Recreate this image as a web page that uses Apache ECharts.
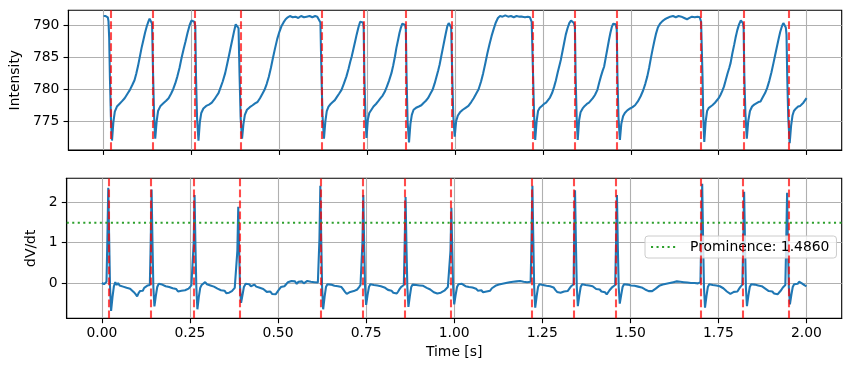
<!DOCTYPE html>
<html>
<head>
<meta charset="utf-8">
<script src="https://cdn.jsdelivr.net/npm/echarts@6/dist/echarts.min.js"></script>
<style>html,body{margin:0;padding:0;background:#fff}#c{width:850px;height:371px}</style>
</head>
<body>
<div id="c"></div>
<script>
// ---- data ----
const spikeTimes = [0.018,0.141,0.263,0.387,0.620,0.742,0.862,0.992,1.222,1.343,1.462,1.704,1.823,1.945];
const prominence = 1.4860;
const xTicks = [0,0.25,0.5,0.75,1,1.25,1.5,1.75,2];
const yTicksTop = [775,780,785,790];
const yTicksBottom = [0,1,2];
const xRange = [-0.1, 2.1];

const intensity = [
[0.000,791.4],[0.003,791.3],[0.006,791.4],[0.009,791.3],[0.012,791.2],[0.014,790.6],[0.016,788.0],[0.018,782.0],[0.021,775.5],[0.024,772.0],
[0.028,774.9],[0.032,776.5],[0.038,777.3],[0.045,777.7],[0.052,778.1],[0.060,778.6],[0.068,779.3],[0.075,779.9],[0.082,780.7],[0.088,781.4],
[0.093,782.4],[0.098,783.6],[0.103,785.0],[0.108,786.4],[0.113,787.6],[0.118,788.8],[0.123,789.8],[0.128,790.6],[0.131,791.0],[0.135,790.7],[0.138,790.2],
[0.141,782.0],[0.144,775.5],[0.147,772.3],[0.151,775.0],[0.155,776.6],[0.162,777.4],[0.170,777.8],[0.178,778.2],[0.185,778.6],[0.192,779.3],[0.198,780.0],
[0.204,780.9],[0.210,782.0],[0.216,783.3],[0.222,784.9],[0.228,786.3],[0.233,787.4],[0.239,788.8],[0.245,790.0],[0.250,790.7],[0.254,790.8],[0.258,790.5],[0.261,789.8],
[0.263,782.0],[0.266,775.5],[0.270,772.0],[0.274,774.9],[0.278,776.3],[0.284,777.0],[0.292,777.4],[0.300,777.6],[0.308,777.9],[0.315,778.4],[0.321,778.9],[0.327,779.4],
[0.333,780.3],[0.339,781.2],[0.346,782.5],[0.352,784.0],[0.357,785.3],[0.362,786.6],[0.367,787.9],[0.372,789.2],[0.376,790.1],[0.380,790.2],[0.384,789.5],
[0.387,782.0],[0.390,775.5],[0.394,772.3],[0.398,774.6],[0.402,776.0],[0.408,776.8],[0.416,777.2],[0.424,777.5],[0.431,777.8],[0.438,778.0],[0.445,778.6],[0.452,779.3],
[0.458,779.9],[0.464,780.8],[0.470,781.9],[0.476,783.3],[0.482,784.9],[0.488,786.4],[0.494,787.8],[0.500,788.9],[0.506,789.8],[0.512,790.4],[0.518,790.9],[0.524,791.2],
[0.530,791.4],[0.538,791.2],[0.546,791.3],[0.554,791.1],[0.562,791.4],[0.570,791.2],[0.578,791.3],[0.586,791.4],[0.594,791.2],[0.602,791.4],[0.608,791.3],[0.613,791.1],[0.617,790.4],
[0.620,782.0],[0.623,775.8],[0.627,772.3],[0.631,775.0],[0.635,776.6],[0.640,777.3],[0.646,777.7],[0.652,778.0],[0.658,778.3],[0.664,778.8],[0.670,779.3],[0.677,779.9],
[0.684,780.9],[0.691,782.0],[0.697,783.2],[0.702,784.3],[0.706,785.1],[0.711,786.3],[0.716,787.5],[0.720,788.5],[0.725,789.6],[0.730,790.5],[0.734,790.8],[0.738,790.4],[0.740,789.6],
[0.742,782.0],[0.745,776.0],[0.748,772.4],[0.752,775.3],[0.756,776.3],[0.762,776.8],[0.768,777.3],[0.775,777.7],[0.781,778.1],[0.788,778.6],[0.794,779.0],[0.800,779.6],
[0.806,780.4],[0.812,781.3],[0.819,782.5],[0.824,783.7],[0.829,785.1],[0.833,786.4],[0.838,787.7],[0.842,788.8],[0.846,789.6],[0.850,790.2],[0.854,790.4],[0.858,790.0],[0.860,789.3],
[0.862,782.0],[0.865,775.0],[0.869,771.7],[0.873,774.6],[0.877,776.0],[0.882,776.8],[0.889,777.1],[0.897,777.3],[0.904,777.5],[0.911,777.9],[0.917,778.2],[0.923,778.6],
[0.929,779.2],[0.936,779.9],[0.942,780.9],[0.947,781.9],[0.952,782.9],[0.956,783.8],[0.961,785.2],[0.966,786.6],[0.970,787.7],[0.974,788.8],[0.978,789.8],[0.982,790.3],[0.986,790.1],[0.989,789.6],
[0.992,782.0],[0.995,775.8],[0.999,772.6],[1.003,775.0],[1.008,775.9],[1.014,776.4],[1.022,776.8],[1.030,777.1],[1.038,777.4],[1.046,778.0],[1.053,778.6],[1.060,779.3],
[1.067,780.0],[1.074,781.2],[1.080,782.5],[1.086,784.0],[1.092,785.6],[1.098,787.0],[1.104,788.3],[1.110,789.4],[1.116,790.4],[1.122,791.1],[1.128,791.4],[1.135,791.3],
[1.143,791.5],[1.151,791.3],[1.159,791.4],[1.167,791.2],[1.175,791.4],[1.183,791.3],[1.191,791.3],[1.199,791.2],[1.207,791.3],[1.213,791.2],[1.218,790.5],
[1.222,782.0],[1.225,775.8],[1.228,772.1],[1.232,775.0],[1.236,776.6],[1.241,777.1],[1.247,777.4],[1.253,777.7],[1.259,777.9],[1.264,778.1],[1.270,778.7],[1.276,779.4],
[1.282,780.4],[1.287,781.4],[1.292,782.6],[1.297,783.7],[1.301,784.6],[1.306,786.0],[1.311,787.4],[1.315,788.5],[1.320,789.5],[1.325,790.3],[1.330,790.7],[1.334,790.8],[1.338,790.3],[1.341,789.7],
[1.343,782.0],[1.346,775.5],[1.349,772.1],[1.353,775.2],[1.357,776.4],[1.363,777.0],[1.369,777.4],[1.375,777.7],[1.381,777.9],[1.386,778.1],[1.392,778.6],[1.398,779.1],
[1.405,779.9],[1.410,781.0],[1.415,782.0],[1.420,782.9],[1.424,783.5],[1.429,785.0],[1.434,786.5],[1.438,787.7],[1.442,788.8],[1.446,789.7],[1.450,790.2],[1.454,790.4],[1.457,790.1],[1.460,789.3],
[1.462,782.0],[1.465,775.5],[1.469,772.1],[1.473,774.6],[1.478,775.8],[1.483,776.3],[1.490,776.7],[1.498,777.0],[1.505,777.2],[1.512,777.5],[1.520,778.1],[1.528,778.9],
[1.535,779.8],[1.541,780.8],[1.547,782.0],[1.552,783.3],[1.557,784.8],[1.562,786.2],[1.567,787.5],[1.572,788.7],[1.577,789.6],[1.583,790.2],[1.590,790.6],[1.597,790.9],
[1.604,791.1],[1.612,791.3],[1.620,791.4],[1.628,791.2],[1.636,791.4],[1.644,791.3],[1.652,791.1],[1.660,790.9],[1.667,791.1],[1.674,791.3],[1.682,791.2],[1.690,791.3],[1.696,791.2],[1.700,790.5],
[1.704,782.0],[1.706,776.0],[1.709,771.8],[1.713,775.0],[1.717,776.6],[1.722,777.1],[1.727,777.3],[1.732,777.5],[1.738,777.8],[1.744,778.2],[1.750,778.6],[1.755,779.1],
[1.760,779.7],[1.765,780.4],[1.770,781.4],[1.775,782.4],[1.780,783.3],[1.784,784.1],[1.789,785.6],[1.794,786.9],[1.798,788.0],[1.803,789.2],[1.808,790.1],[1.813,790.7],[1.816,790.8],[1.819,790.3],[1.821,789.5],
[1.823,782.0],[1.826,776.3],[1.830,772.3],[1.834,775.0],[1.839,776.6],[1.845,777.3],[1.851,777.6],[1.857,777.8],[1.863,778.0],[1.869,778.1],[1.875,778.7],[1.882,779.4],
[1.888,780.2],[1.894,781.3],[1.900,782.6],[1.906,784.1],[1.911,785.4],[1.916,786.7],[1.920,787.7],[1.925,788.9],[1.930,789.8],[1.934,790.3],[1.938,790.2],[1.941,789.6],[1.943,788.5],
[1.945,782.0],[1.948,775.5],[1.952,771.6],[1.956,774.3],[1.960,775.9],[1.964,776.6],[1.970,777.0],[1.976,777.3],[1.982,777.4],[1.987,777.6],[1.991,777.9],[1.995,778.2],[2.000,778.6]
];

const dvdt = [
[0.000,0.00],[0.003,0.02],[0.006,-0.03],[0.009,0.01],[0.011,-0.02],[0.013,0.03],
[0.0155,1.1],[0.018,2.35],[0.0205,1.1],[0.023,-0.1],[0.026,-0.69],[0.030,-0.35],[0.034,-0.08],
[0.038,0.02],[0.042,-0.05],[0.046,0.00],[0.050,-0.06],[0.055,-0.03],[0.060,-0.09],[0.065,-0.05],[0.070,-0.12],[0.075,-0.08],[0.080,-0.14],[0.085,-0.18],
[0.090,-0.22],[0.095,-0.27],[0.100,-0.33],[0.104,-0.25],[0.108,-0.20],[0.112,-0.16],[0.116,-0.19],[0.120,-0.12],[0.125,-0.10],[0.130,-0.06],[0.134,-0.08],[0.136,-0.05],
[0.1385,1.0],[0.141,2.31],[0.1435,1.0],[0.146,-0.1],[0.149,-0.58],[0.153,-0.32],[0.157,-0.10],
[0.161,-0.02],[0.166,0.00],[0.171,-0.04],[0.176,-0.02],[0.181,-0.08],[0.186,-0.06],[0.191,-0.10],[0.196,-0.08],[0.201,-0.13],[0.206,-0.17],[0.211,-0.15],
[0.216,-0.21],[0.221,-0.24],[0.226,-0.19],[0.231,-0.23],[0.236,-0.18],[0.241,-0.21],[0.246,-0.14],[0.250,-0.10],[0.254,-0.06],[0.258,-0.04],
[0.2605,1.0],[0.263,2.17],[0.2655,0.9],[0.268,-0.1],[0.271,-0.65],[0.275,-0.35],[0.279,-0.12],
[0.283,-0.05],[0.288,-0.01],[0.293,0.02],[0.298,-0.03],[0.303,-0.01],[0.308,-0.06],[0.313,-0.04],[0.318,-0.09],[0.323,-0.11],[0.328,-0.14],[0.333,-0.12],
[0.338,-0.18],[0.343,-0.21],[0.348,-0.19],[0.353,-0.25],[0.357,-0.28],[0.361,-0.24],[0.365,-0.27],[0.369,-0.20],[0.373,-0.16],[0.377,-0.12],[0.382,-0.08],
[0.3845,0.8],[0.387,1.88],[0.3895,0.8],[0.392,-0.1],[0.395,-0.49],[0.399,-0.30],[0.403,-0.10],
[0.408,-0.02],[0.413,-0.05],[0.418,-0.03],[0.423,-0.08],[0.428,-0.06],[0.433,-0.04],[0.438,-0.09],[0.443,-0.07],[0.448,-0.12],[0.453,-0.10],[0.458,-0.15],
[0.463,-0.18],[0.468,-0.22],[0.473,-0.25],[0.478,-0.21],[0.483,-0.27],[0.488,-0.24],[0.493,-0.28],[0.498,-0.22],[0.503,-0.16],[0.508,-0.10],[0.513,-0.06],
[0.518,-0.08],[0.523,-0.03],[0.528,0.02],[0.533,-0.01],[0.538,0.05],[0.543,0.01],[0.548,0.04],[0.553,-0.02],[0.558,0.03],[0.563,0.00],[0.568,0.04],
[0.573,-0.01],[0.578,0.02],[0.583,0.05],[0.588,0.01],[0.593,0.03],[0.598,-0.01],[0.603,0.02],[0.608,-0.02],[0.613,0.01],[0.615,0.03],
[0.6175,1.1],[0.620,2.40],[0.6225,1.1],[0.625,-0.1],[0.628,-0.65],[0.632,-0.35],[0.636,-0.10],
[0.640,-0.03],[0.645,0.00],[0.650,-0.04],[0.655,-0.02],[0.660,-0.07],[0.665,-0.05],[0.670,-0.08],[0.675,-0.06],[0.680,-0.10],[0.685,-0.16],[0.690,-0.22],
[0.695,-0.27],[0.700,-0.25],[0.705,-0.22],[0.710,-0.26],[0.715,-0.20],[0.720,-0.22],[0.725,-0.16],[0.730,-0.10],[0.734,-0.05],[0.737,-0.04],
[0.7395,1.0],[0.742,2.17],[0.7445,0.9],[0.747,-0.1],[0.750,-0.54],[0.754,-0.30],[0.758,-0.10],
[0.762,-0.03],[0.767,-0.01],[0.772,-0.05],[0.777,-0.02],[0.782,-0.06],[0.787,-0.04],[0.792,-0.08],[0.797,-0.06],[0.802,-0.11],[0.807,-0.14],[0.812,-0.17],
[0.817,-0.21],[0.822,-0.19],[0.827,-0.24],[0.832,-0.22],[0.837,-0.26],[0.841,-0.21],[0.845,-0.15],[0.849,-0.10],[0.853,-0.07],[0.857,-0.05],
[0.8595,1.0],[0.862,2.12],[0.8645,0.9],[0.867,-0.1],[0.870,-0.59],[0.874,-0.33],[0.878,-0.10],
[0.882,-0.04],[0.887,-0.01],[0.892,-0.05],[0.897,-0.02],[0.902,-0.06],[0.907,-0.03],[0.912,-0.07],[0.917,-0.09],[0.922,-0.12],[0.927,-0.10],[0.932,-0.16],
[0.937,-0.20],[0.942,-0.23],[0.947,-0.21],[0.952,-0.26],[0.957,-0.28],[0.962,-0.24],[0.967,-0.26],[0.972,-0.19],[0.977,-0.15],[0.982,-0.10],[0.987,-0.07],
[0.9895,0.8],[0.992,1.86],[0.9945,0.8],[0.997,-0.1],[1.000,-0.53],[1.004,-0.30],[1.008,-0.10],
[1.012,-0.03],[1.017,-0.06],[1.022,-0.02],[1.027,-0.05],[1.032,-0.08],[1.037,-0.06],[1.042,-0.10],[1.047,-0.07],[1.052,-0.11],[1.057,-0.09],[1.062,-0.14],
[1.067,-0.19],[1.072,-0.22],[1.077,-0.18],[1.082,-0.23],[1.087,-0.25],[1.092,-0.21],[1.097,-0.17],[1.102,-0.19],[1.107,-0.13],[1.112,-0.10],[1.117,-0.07],
[1.122,-0.09],[1.127,-0.04],[1.132,-0.06],[1.137,-0.02],[1.142,-0.04],[1.147,0.00],[1.152,-0.03],[1.157,0.02],[1.162,-0.01],[1.167,0.03],[1.172,0.00],
[1.177,0.04],[1.182,0.02],[1.187,0.05],[1.192,0.01],[1.197,0.03],[1.202,-0.01],[1.207,0.02],[1.212,0.00],[1.217,0.03],
[1.2195,1.1],[1.222,2.40],[1.2245,1.1],[1.227,-0.1],[1.230,-0.61],[1.234,-0.33],[1.238,-0.10],
[1.242,-0.03],[1.247,-0.01],[1.252,-0.05],[1.257,-0.02],[1.262,-0.07],[1.267,-0.04],[1.272,-0.08],[1.277,-0.06],[1.282,-0.11],[1.287,-0.17],[1.292,-0.22],
[1.297,-0.26],[1.302,-0.24],[1.307,-0.27],[1.312,-0.21],[1.317,-0.19],[1.322,-0.20],[1.327,-0.14],[1.332,-0.08],[1.336,-0.05],[1.339,-0.03],
[1.3405,1.1],[1.343,2.29],[1.3455,1.0],[1.348,-0.1],[1.351,-0.57],[1.355,-0.32],[1.359,-0.10],
[1.363,-0.03],[1.368,-0.01],[1.373,-0.05],[1.378,-0.02],[1.383,-0.06],[1.388,-0.04],[1.393,-0.08],[1.398,-0.11],[1.403,-0.15],[1.408,-0.18],[1.413,-0.16],
[1.418,-0.21],[1.423,-0.25],[1.428,-0.23],[1.433,-0.28],[1.437,-0.24],[1.441,-0.18],[1.445,-0.14],[1.449,-0.10],[1.453,-0.08],[1.457,-0.05],
[1.4595,1.0],[1.462,2.17],[1.4645,0.9],[1.467,-0.1],[1.470,-0.51],[1.474,-0.30],[1.478,-0.10],
[1.482,-0.03],[1.487,-0.01],[1.492,-0.04],[1.497,-0.02],[1.502,-0.06],[1.507,-0.03],[1.512,-0.07],[1.517,-0.05],[1.522,-0.09],[1.527,-0.07],[1.532,-0.11],
[1.537,-0.13],[1.542,-0.16],[1.547,-0.14],[1.552,-0.20],[1.557,-0.23],[1.562,-0.20],[1.567,-0.17],[1.572,-0.14],[1.577,-0.10],[1.582,-0.07],[1.587,-0.09],
[1.592,-0.04],[1.597,-0.06],[1.602,-0.02],[1.607,-0.04],[1.612,0.00],[1.617,-0.02],[1.622,0.02],[1.627,0.00],[1.632,0.04],[1.637,0.01],[1.642,0.03],
[1.647,0.06],[1.652,0.02],[1.657,0.04],[1.662,0.01],[1.667,0.03],[1.672,0.00],[1.677,0.02],[1.682,0.00],[1.687,0.02],[1.692,-0.01],[1.697,0.01],[1.699,0.02],
[1.7015,1.2],[1.704,2.45],[1.7065,1.1],[1.709,-0.1],[1.712,-0.61],[1.716,-0.33],[1.720,-0.10],
[1.724,-0.03],[1.729,-0.01],[1.734,-0.05],[1.739,-0.03],[1.744,-0.06],[1.749,-0.04],[1.754,-0.08],[1.759,-0.10],[1.764,-0.13],[1.769,-0.17],[1.774,-0.21],
[1.779,-0.24],[1.784,-0.27],[1.789,-0.25],[1.794,-0.22],[1.799,-0.19],[1.804,-0.21],[1.809,-0.14],[1.813,-0.09],[1.816,-0.06],[1.818,-0.04],
[1.8205,1.0],[1.823,2.25],[1.8255,1.0],[1.828,-0.1],[1.831,-0.57],[1.835,-0.32],[1.839,-0.10],
[1.843,-0.03],[1.848,-0.01],[1.853,-0.04],[1.858,-0.02],[1.863,-0.06],[1.868,-0.04],[1.873,-0.08],[1.878,-0.11],[1.883,-0.14],[1.888,-0.17],[1.893,-0.20],
[1.898,-0.23],[1.903,-0.21],[1.908,-0.26],[1.913,-0.24],[1.918,-0.28],[1.923,-0.23],[1.928,-0.18],[1.933,-0.11],[1.937,-0.07],[1.940,-0.05],
[1.9425,1.0],[1.945,2.23],[1.9475,0.9],[1.950,-0.1],[1.953,-0.53],[1.957,-0.30],[1.961,-0.10],
[1.965,-0.03],[1.970,0.01],[1.975,-0.02],[1.979,0.03],[1.983,0.02],[1.987,-0.01],[1.991,-0.04],[1.995,-0.06],[2.000,-0.08]
];

// ---- chart ----
const FONT = 'DejaVu Sans';
const FS = 13.9;
const BLACK = '#000000';
const GRIDC = '#b0b0b0';
const LW = 2.08;      // 1.5 pt at 100 dpi
const THIN = 1.1;     // 0.8 pt

function xAxisCfg(gridIndex, showLabels) {
  return {
    type: 'value', gridIndex, min: xRange[0], max: xRange[1],
    axisLine: { show: true, onZero: false, lineStyle: { color: BLACK, width: THIN } },
    axisTick: { show: true, customValues: xTicks, length: 4.9, lineStyle: { color: BLACK, width: THIN } },
    axisLabel: { show: showLabels, customValues: xTicks, formatter: v => v.toFixed(2),
      color: BLACK, fontSize: FS, fontFamily: FONT, margin: 8 },
    splitLine: { show: true, lineStyle: { color: GRIDC, width: THIN } },
    name: showLabels ? 'Time [s]' : '', nameLocation: 'middle', nameGap: 27,
    nameTextStyle: { color: BLACK, fontSize: FS, fontFamily: FONT }
  };
}
function yAxisCfg(gridIndex, min, max, ticks, name, gap, split) {
  return {
    type: 'value', gridIndex, min, max, splitNumber: split,
    axisLine: { show: true, onZero: false, lineStyle: { color: BLACK, width: THIN } },
    axisTick: { show: true, customValues: ticks, length: 4.9, lineStyle: { color: BLACK, width: THIN } },
    axisLabel: { show: true, customValues: ticks, color: BLACK, fontSize: FS, fontFamily: FONT, margin: 9 },
    splitLine: { show: true, lineStyle: { color: GRIDC, width: THIN } },
    name, nameLocation: 'middle', nameGap: gap,
    nameTextStyle: { color: BLACK, fontSize: FS, fontFamily: FONT }
  };
}
const spikeMark = {
  silent: true, symbol: ['none', 'none'], animation: false,
  label: { show: false },
  lineStyle: { color: 'rgba(255,0,0,0.7)', type: [7.7, 3.3], width: LW },
  emphasis: { disabled: true },
  data: spikeTimes.map(t => ({ xAxis: t }))
};

const promName = 'Prominence: ' + prominence.toFixed(4);
const chart = echarts.init(document.getElementById('c'), null, { renderer: 'canvas' });
chart.setOption({
  animation: false,
  backgroundColor: '#ffffff',
  grid: [
    { left: 66.7, top: 10.3, right: 8.3, height: 139.7, show: true, borderColor: BLACK, borderWidth: THIN, backgroundColor: 'transparent' },
    { left: 66.7, top: 178.3, right: 8.3, height: 140, show: true, borderColor: BLACK, borderWidth: THIN, backgroundColor: 'transparent' }
  ],
  xAxis: [xAxisCfg(0, false), xAxisCfg(1, true)],
  yAxis: [
    yAxisCfg(0, 770.53, 792.29, yTicksTop, 'Intensity', 42, 5),
    yAxisCfg(1, -0.872, 2.585, yTicksBottom, 'dV/dt', 24, 3)
  ],
  legend: {
    data: [promName],
    left: 645, top: 236, orient: 'vertical',
    padding: [4, 7, 4, 5], itemWidth: 27, itemHeight: 14,
    itemStyle: { opacity: 0 },
    backgroundColor: 'rgba(255,255,255,0.8)', borderColor: '#cccccc', borderWidth: 1, borderRadius: 3,
    textStyle: { color: BLACK, fontSize: FS, fontFamily: FONT, padding: [0, 0, 0, 7] }
  },
  series: [
    { type: 'line', name: 'Intensity', xAxisIndex: 0, yAxisIndex: 0, data: intensity,
      symbol: 'none', showSymbol: false, lineStyle: { color: '#1f77b4', width: LW }, z: 2 },
    { type: 'line', name: 'spikesTop', xAxisIndex: 0, yAxisIndex: 0, data: [], symbol: 'none', z: 3,
      markLine: spikeMark },
    { type: 'line', name: 'dV/dt', xAxisIndex: 1, yAxisIndex: 1, data: dvdt,
      symbol: 'none', showSymbol: false, lineStyle: { color: '#1f77b4', width: LW }, z: 2 },
    { type: 'line', name: promName, xAxisIndex: 1, yAxisIndex: 1,
      data: [[xRange[0], prominence], [xRange[1], prominence]],
      symbol: 'none', showSymbol: false, itemStyle: { color: '#2ca02c', opacity: 0 },
      lineStyle: { color: '#2ca02c', width: LW, type: [2.08, 3.44] }, z: 2 },
    { type: 'line', name: 'spikesBottom', xAxisIndex: 1, yAxisIndex: 1, data: [], symbol: 'none', z: 3,
      markLine: spikeMark }
  ]
});
</script>
</body>
</html>
